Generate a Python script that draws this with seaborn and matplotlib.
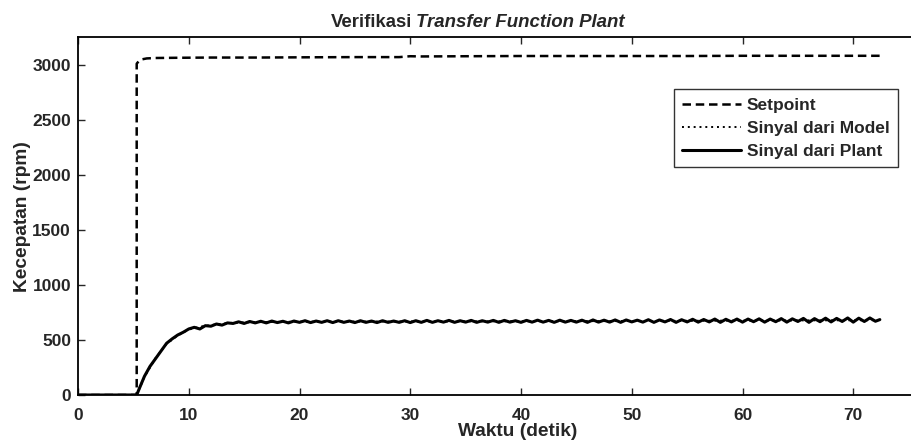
import numpy as np
import pandas as pd
import matplotlib
matplotlib.use("Agg")
import matplotlib.pyplot as plt
import seaborn as sns

# ---- data ----
setpoint_t = [0.0, 5.3, 5.3, 5.5, 5.8, 6.2, 7.0, 9.0, 12.0, 16.0, 20.0, 25.0, 29.0, 30.0, 31.0, 35.0, 40.0, 45.0, 50.0, 55.0, 60.0, 65.0, 70.0, 72.7]
setpoint_v = [0, 0, 3010, 3035, 3050, 3058, 3062, 3064, 3066, 3066, 3068, 3070, 3070, 3078, 3076, 3078, 3080, 3080, 3080, 3080, 3082, 3082, 3082, 3082]

plant_t = ([0.0, 5.3, 5.5, 6.0, 6.5, 7.0, 7.5, 8.0, 8.5, 9.0]
           + [9.5, 10.0, 10.5, 11.0, 11.5, 12.0, 12.5, 13.0, 13.5, 14.0]
           + [14.5, 15.0, 15.5, 16.0, 16.5, 17.0, 17.5, 18.0, 18.5, 19.0]
           + [19.5, 20.0, 20.5, 21.0, 21.5, 22.0, 22.5, 23.0, 23.5, 24.0]
           + [24.5, 25.0, 25.5, 26.0, 26.5, 27.0, 27.5, 28.0, 28.5, 29.0]
           + [29.5, 30.0, 30.5, 31.0, 31.5, 32.0, 32.5, 33.0, 33.5, 34.0]
           + [34.5, 35.0, 35.5, 36.0, 36.5, 37.0, 37.5, 38.0, 38.5, 39.0]
           + [39.5, 40.0, 40.5, 41.0, 41.5, 42.0, 42.5, 43.0, 43.5, 44.0]
           + [44.5, 45.0, 45.5, 46.0, 46.5, 47.0, 47.5, 48.0, 48.5, 49.0]
           + [49.5, 50.0, 50.5, 51.0, 51.5, 52.0, 52.5, 53.0, 53.5, 54.0]
           + [54.5, 55.0, 55.5, 56.0, 56.5, 57.0, 57.5, 58.0, 58.5, 59.0]
           + [59.5, 60.0, 60.5, 61.0, 61.5, 62.0, 62.5, 63.0, 63.5, 64.0]
           + [64.5, 65.0, 65.5, 66.0, 66.5, 67.0, 67.5, 68.0, 68.5, 69.0]
           + [69.5, 70.0, 70.5, 71.0, 71.5, 72.0, 72.4])
plant_v = ([0, 0, 50, 170, 260, 330, 400, 470, 510, 545]
           + [570, 600, 615, 600, 630, 625, 645, 635, 655, 650]
           + [665, 650, 668, 655, 670, 655, 672, 658, 670, 655]
           + [672, 660, 675, 658, 672, 660, 675, 658, 675, 660]
           + [672, 658, 675, 660, 672, 658, 675, 660, 672, 660]
           + [675, 658, 675, 660, 678, 660, 675, 662, 678, 660]
           + [675, 662, 678, 660, 675, 662, 678, 660, 678, 662]
           + [675, 660, 678, 662, 680, 662, 678, 660, 680, 662]
           + [678, 662, 680, 660, 682, 662, 680, 662, 682, 660]
           + [682, 664, 680, 662, 684, 660, 682, 664, 686, 660]
           + [684, 664, 688, 662, 686, 664, 690, 660, 688, 664]
           + [690, 662, 690, 666, 692, 662, 690, 666, 694, 662]
           + [692, 668, 696, 660, 694, 666, 698, 664, 696, 668]
           + [700, 662, 698, 668, 700, 670, 685])
model_t = [0.0, 5.3, 6.0, 7.0, 8.0, 9.0, 10.0, 11.0, 12.0, 13.0, 14.0, 16.0, 20.0, 30.0, 40.0, 50.0, 60.0, 72.0]
model_v = [0, 0, 165, 335, 465, 540, 595, 620, 635, 648, 656, 662, 666, 668, 670, 672, 676, 680]

sp = pd.DataFrame({"t": setpoint_t, "v": setpoint_v})
md = pd.DataFrame({"t": model_t, "v": model_v})
pl = pd.DataFrame({"t": plant_t, "v": plant_v})

sns.set_style("ticks")
plt.rcParams["font.family"] = ["Liberation Sans", "DejaVu Sans"]
plt.rcParams["font.weight"] = "bold"

W, H = 912, 448
fig = plt.figure(figsize=(W / 100, H / 100), dpi=100)
# axes extends past the right edge of the picture (cropped, as in the reference)
ax = fig.add_axes([78 / W, (H - 395) / H, 886 / W, 357.7 / H])

sns.lineplot(data=sp, x="t", y="v", ax=ax, color="black", lw=1.8,
             linestyle=(0, (3.4, 1.9)), label="Setpoint", sort=False, estimator=None)
sns.lineplot(data=md, x="t", y="v", ax=ax, color="black", lw=1.4,
             linestyle=(0, (1, 2)), label="Sinyal dari Model", sort=False, estimator=None)
sns.lineplot(data=pl, x="t", y="v", ax=ax, color="black", lw=2.2,
             linestyle="-", label="Sinyal dari Plant", sort=False, estimator=None)

ax.set_xlim(0, 80)
ax.set_ylim(0, 3250)
ax.set_xticks(range(0, 80, 10))
ax.set_yticks(range(0, 3500, 500))
ax.tick_params(direction="in", top=True, right=True, length=5, width=1, labelsize=12.5)
ax.tick_params(axis="x", pad=9.5)
ax.tick_params(axis="y", pad=5)
for lbl in ax.get_xticklabels() + ax.get_yticklabels():
    lbl.set_fontweight("bold")
for s in ax.spines.values():
    s.set_linewidth(1.3)
    s.set_color("black")

ax.set_xlabel("Waktu (detik)", fontsize=13.8, fontweight="bold")
ax.set_ylabel("Kecepatan (rpm)", fontsize=13.8, fontweight="bold")
ax.xaxis.set_label_coords((518 - 78) / 886, -(423 - 395) / 357.7)
ax.yaxis.set_label_coords((31 - 78) / 886, 0.5)

leg = ax.legend(loc="upper right", frameon=True, fancybox=False, edgecolor="black", fontsize=12.5,
                handlelength=3.4, handletextpad=0.3, borderpad=0.5, labelspacing=0.45, borderaxespad=0)
leg.get_frame().set_linewidth(1.0)
for txt in leg.get_texts():
    txt.set_fontweight("bold")
leg.set_bbox_to_anchor((898 / W, 1 - 89 / H), transform=fig.transFigure)

fig.text(412 / W, 1 - 27 / H, "Verifikasi", ha="right", va="baseline", fontsize=13.4, fontweight="bold")
fig.text(416 / W, 1 - 27 / H, "Transfer Function Plant", ha="left", va="baseline", fontsize=13.4,
         fontweight="bold", fontstyle="italic")

fig.savefig("out.png", dpi=100)
